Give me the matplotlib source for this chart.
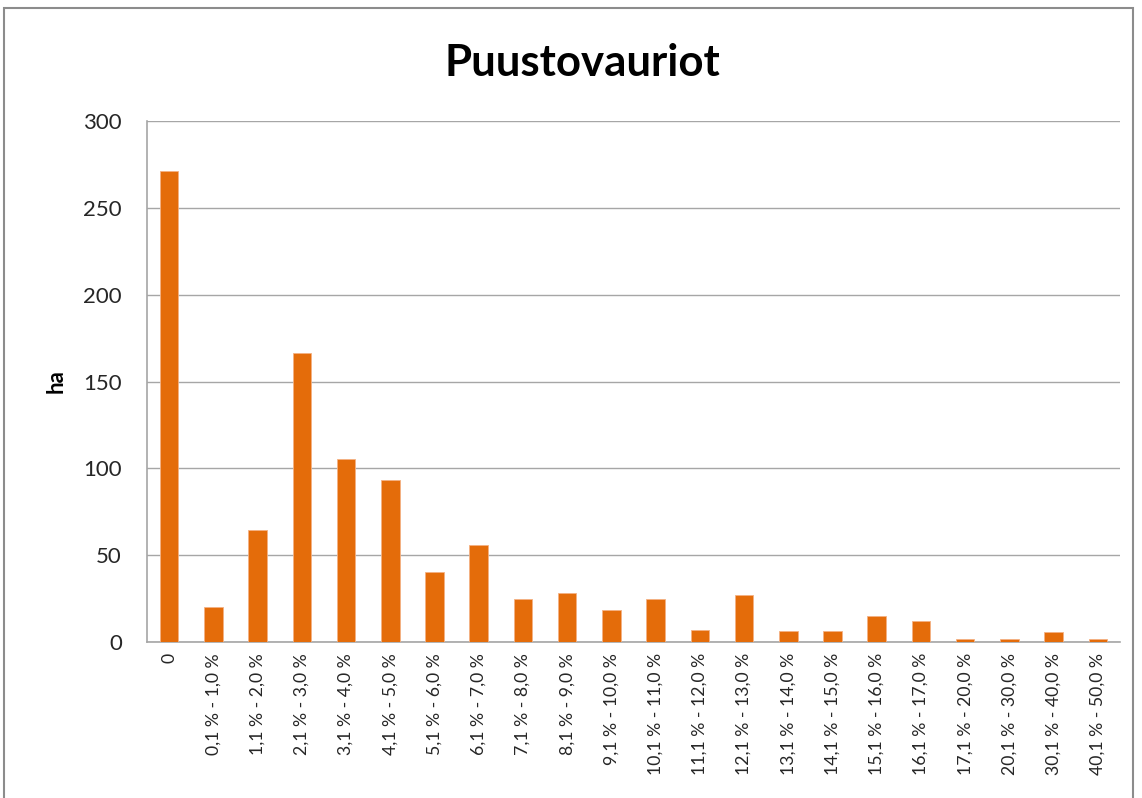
import matplotlib
matplotlib.use("Agg")
import matplotlib.pyplot as plt
from matplotlib.patches import Rectangle

categories = ["0", "0,1 % - 1,0 %", "1,1 % - 2,0 %", "2,1 % - 3,0 %", "3,1 % - 4,0 %",
              "4,1 % - 5,0 %", "5,1 % - 6,0 %", "6,1 % - 7,0 %", "7,1 % - 8,0 %",
              "8,1 % - 9,0 %", "9,1 % - 10,0 %", "10,1 % - 11,0 %", "11,1 % - 12,0 %",
              "12,1 % - 13,0 %", "13,1 % - 14,0 %", "14,1 % - 15,0 %", "15,1 % - 16,0 %",
              "16,1 % - 17,0 %", "17,1 % - 20,0 %", "20,1 % - 30,0 %", "30,1 % - 40,0 %",
              "40,1 % - 50,0 %"]
values = [271, 20, 64.5, 166.5, 105.5, 93.3, 40.3, 55.8, 24.6, 28.4, 18.2,
          24.6, 6.7, 26.9, 6.2, 6.2, 15, 12, 1.5, 1.5, 5.6, 1.5]
yticks = [0, 50, 100, 150, 200, 250, 300]

plt.rcParams['font.family'] = ['Lato', 'DejaVu Sans']

W, H = 1142, 798
fig = plt.figure(figsize=(W / 100, H / 100), dpi=100)
# plot area in pixels
x0, x1, y0, y1 = 147, 1120, 121, 642
ax = fig.add_axes([x0 / W, 1 - y1 / H, (x1 - x0) / W, (y1 - y0) / H])

xs = list(range(len(categories)))
ax.bar(xs, values, width=0.42, color='#E46C0A', edgecolor='#F4B183', linewidth=0.6, zorder=3)
ax.set_xlim(-0.5, len(categories) - 0.5)
ax.set_ylim(0, 300)
ax.set_yticks(yticks)
ax.set_yticklabels([str(t) for t in yticks], fontsize=16, color='#262626')
ax.set_xticks(xs)
ax.set_xticklabels(categories, rotation=90, fontsize=12.7, va='top', ha='center', color='#262626')
ax.tick_params(axis='y', length=0, pad=18)
ax.tick_params(axis='x', length=0, pad=8)
ax.grid(axis='y', color='#A6A6A6', linewidth=1, zorder=0)
for s in ['top', 'right']:
    ax.spines[s].set_visible(False)
for s in ['left', 'bottom']:
    ax.spines[s].set_color('#A6A6A6')
    ax.spines[s].set_linewidth(1.2)
ax.set_ylabel('ha', fontsize=16, fontweight='bold', labelpad=12)

fig.text(582 / W, 1 - 76 / H, 'Puustovauriot', fontsize=31.5, fontweight='bold',
         ha='center', va='baseline')

# chart border
fig.patches.append(Rectangle((4 / W, -0.05), (1133 - 4) / W, 1 - 8 / H + 0.05,
                             transform=fig.transFigure, fill=False,
                             edgecolor='#8C8C8C', linewidth=1.5))

fig.savefig('out.png', dpi=100)
